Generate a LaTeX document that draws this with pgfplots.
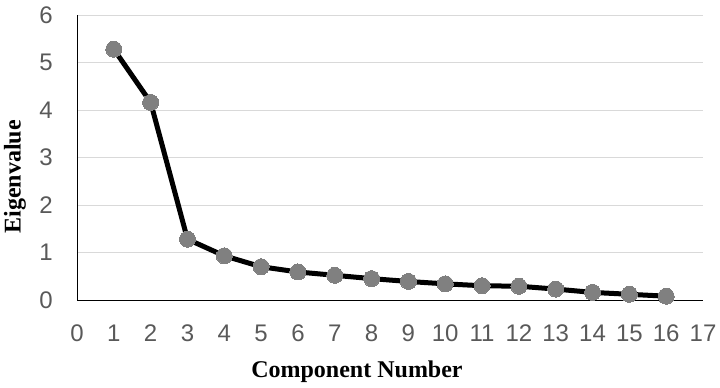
\documentclass[border=0pt]{standalone}
\usepackage{fontspec}
\setmainfont{Liberation Serif}
\newfontfamily\arial{Liberation Sans}
\usepackage{pgfplots}
\pgfplotsset{compat=1.18}
\definecolor{tickgray}{HTML}{595959}
\definecolor{gridgray}{HTML}{D9D9D9}
\definecolor{markgray}{HTML}{808080}
\newcommand{\tickfont}{\arial\fontsize{24bp}{26bp}\selectfont}
\begin{document}
\begin{tikzpicture}
\begin{axis}[
  scale only axis, width=626bp, height=285bp,
  xmin=0, xmax=17, ymin=0, ymax=6,
  xtick={0,...,17}, ytick={0,...,6},
  axis lines*=left,
  axis line style={black, line width=1bp, -},
  ymajorgrids, grid style={gridgray, line width=1bp},
  major tick length=0pt,
  tick label style={text=tickgray, inner sep=0pt},
  xticklabel={\tickfont\pgfmathprintnumber[assume math mode=true]{\tick}},
  yticklabel={\tickfont\pgfmathprintnumber[assume math mode=true]{\tick}},
  xticklabel style={anchor=center, yshift=-33bp},
  yticklabel style={anchor=east, xshift=-24bp},
  clip=false,
]
\addplot[black, line width=5bp, mark=*, mark size=8bp,
  mark options={fill=markgray, draw=markgray, line width=0pt}] coordinates {
(1,5.28) (2,4.16) (3,1.28) (4,0.93) (5,0.70) (6,0.59) (7,0.52) (8,0.45)
(9,0.39) (10,0.34) (11,0.30) (12,0.29) (13,0.23) (14,0.16) (15,0.12) (16,0.08)
};
\end{axis}
\node[rotate=90, font=\bfseries\fontsize{24bp}{26bp}\selectfont] at (-62bp,123bp) {Eigenvalue};
\node[font=\bfseries\fontsize{24bp}{26bp}\selectfont] at (280bp,-72bp) {Component Number};
\path[use as bounding box] (-77bp,-88bp) rectangle (643bp,300bp);
\end{tikzpicture}
\end{document}
